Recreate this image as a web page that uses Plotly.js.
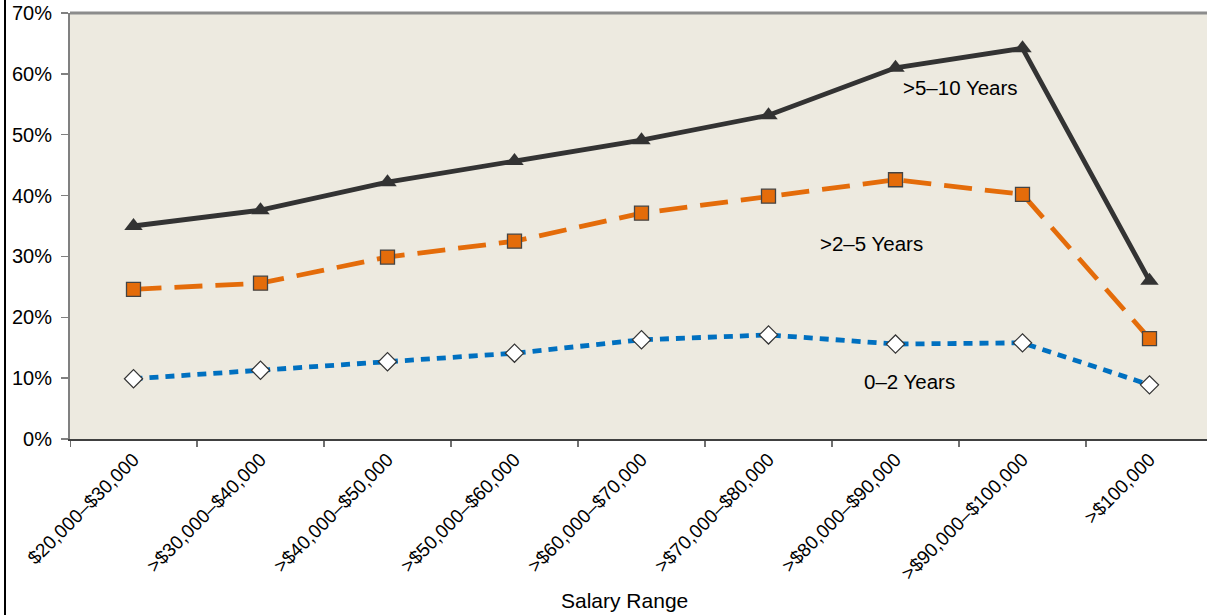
<!DOCTYPE html>
<html>
<head>
<meta charset="utf-8">
<script src="https://cdn.plot.ly/plotly-3.0.1.min.js"></script>
<style>html,body{margin:0;padding:0;background:#fff;}#chart{width:1207px;height:615px;}</style>
</head>
<body>
<div id="chart"></div>
<script>
var categories = ["$20,000–$30,000", ">$30,000–$40,000", ">$40,000–$50,000", ">$50,000–$60,000", ">$60,000–$70,000", ">$70,000–$80,000", ">$80,000–$90,000", ">$90,000–$100,000", ">$100,000"];
var years5to10 = [35.0, 37.6, 42.2, 45.7, 49.1, 53.2, 61.0, 64.2, 26.0];
var years2to5 = [24.6, 25.6, 29.9, 32.5, 37.1, 39.9, 42.6, 40.2, 16.5];
var years0to2 = [9.9, 11.3, 12.7, 14.1, 16.3, 17.1, 15.6, 15.8, 8.9];
var yTicks = [0, 10, 20, 30, 40, 50, 60, 70];
var yTickLabels = ["0%", "10%", "20%", "30%", "40%", "50%", "60%", "70%"];
var seriesLabels = [">5–10 Years", ">2–5 Years", "0–2 Years"];

var idx = categories.map(function(_, i){ return i; });

var traces = [
  {x: idx, y: years0to2, type: 'scatter', mode: 'lines+markers', name: seriesLabels[2],
   line: {color: '#0070C0', width: 4.8, dash: '9px,7px'},
   marker: {symbol: 'diamond', size: 14, color: '#ffffff', line: {color: '#333333', width: 1.2}}},
  {x: idx, y: years2to5, type: 'scatter', mode: 'lines+markers', name: seriesLabels[1],
   line: {color: '#E46C0A', width: 4.8, dash: '28px,13px'},
   marker: {symbol: 'square', size: 14, color: '#E46C0A', line: {color: '#444444', width: 1.3}}},
  {x: idx, y: years5to10, type: 'scatter', mode: 'lines+markers', name: seriesLabels[0],
   line: {color: '#333333', width: 4.8},
   marker: {symbol: 'triangle-up', size: 16, color: '#333333', line: {width: 0}}}
];

var layout = {
  width: 1207, height: 615,
  margin: {l: 70, r: 0, t: 13, b: 176, pad: 0},
  paper_bgcolor: '#ffffff',
  plot_bgcolor: '#EDEAE0',
  showlegend: false,
  font: {family: 'Liberation Sans, Arial, sans-serif', color: '#000000'},
  xaxis: {
    range: [-0.5, 8.4528],
    tickmode: 'array', tickvals: idx, ticktext: categories,
    tickangle: -45, tickfont: {size: 19, color: '#000'},
    ticks: '', showgrid: false, zeroline: false,
    showline: true, linecolor: '#404040', linewidth: 2
  },
  yaxis: {
    range: [0, 70],
    tickmode: 'array', tickvals: yTicks, ticktext: yTickLabels,
    tickfont: {size: 20, color: '#000'},
    ticks: 'outside', ticklen: 7, tickcolor: '#808080', tickwidth: 1.5,
    ticklabelstandoff: 5,
    showgrid: false, zeroline: false,
    showline: true, linecolor: '#808080', linewidth: 2
  },
  shapes: [
    {type: 'line', xref: 'paper', yref: 'paper', x0: 0, x1: 1, y0: 1, y1: 1, line: {color: '#8c8c8c', width: 3}},
    {type: 'line', xref: 'paper', yref: 'paper', x0: -65/1137, x1: -65/1137, y0: -176/426, y1: 1 + 13/426, line: {color: '#000000', width: 2}}
  ].concat(idx.map(function(i){
    return {type: 'line', xref: 'x', yref: 'paper', x0: i + 0.5, x1: i + 0.5, y0: 0, y1: -8/426, line: {color: '#404040', width: 1.5}};
  })).concat([{type: 'line', xref: 'x', yref: 'paper', x0: -0.5, x1: -0.5, y0: 0, y1: -8/426, line: {color: '#404040', width: 1.5}}]),
  annotations: [
    {x: 6.515, y: 57.7, xref: 'x', yref: 'y', text: seriesLabels[0], showarrow: false, xanchor: 'center', font: {size: 20.5, color: '#000'}},
    {x: 5.81, y: 32.1, xref: 'x', yref: 'y', text: seriesLabels[1], showarrow: false, xanchor: 'center', font: {size: 20.5, color: '#000'}},
    {x: 6.11, y: 9.4, xref: 'x', yref: 'y', text: seriesLabels[2], showarrow: false, xanchor: 'center', font: {size: 20.5, color: '#000'}},
    {x: (624 - 70)/1137, y: -(600 - 439)/426, xref: 'paper', yref: 'paper', text: 'Salary Range', showarrow: false, xanchor: 'center', yanchor: 'middle', font: {size: 21, color: '#000'}}
  ]
};

Plotly.newPlot('chart', traces, layout, {displayModeBar: false, staticPlot: true});
</script>
</body>
</html>
